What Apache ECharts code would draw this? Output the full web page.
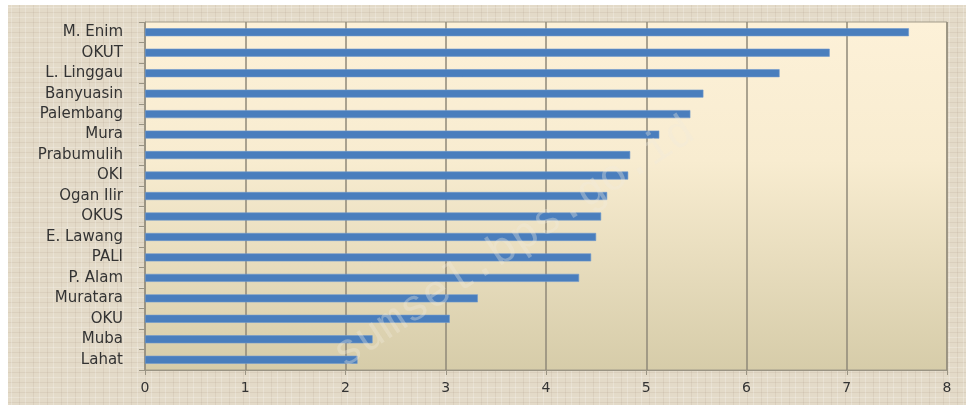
<!DOCTYPE html>
<html>
<head>
<meta charset="utf-8">
<script src="https://cdn.jsdelivr.net/npm/echarts@6/dist/echarts.min.js"></script>
<style>
  html, body { margin: 0; padding: 0; background: #ffffff; }
  #main { width: 966px; height: 405px; }
</style>
</head>
<body>
<div id="main"></div>
<script>
// kabupaten / kota, urut dari atas ke bawah
var categories = ['M. Enim', 'OKUT', 'L. Linggau', 'Banyuasin', 'Palembang', 'Mura', 'Prabumulih', 'OKI',
    'Ogan Ilir', 'OKUS', 'E. Lawang', 'PALI', 'P. Alam', 'Muratara', 'OKU', 'Muba', 'Lahat'];
var values = [7.62, 6.83, 6.33, 5.57, 5.44, 5.13, 4.84, 4.82,
    4.61, 4.55, 4.50, 4.45, 4.33, 3.32, 3.04, 2.27, 2.12];
var xTicks = [0, 1, 2, 3, 4, 5, 6, 7, 8];
var watermark = 'sumsel.bps.go.id';

// tekstur latar (pola tetap, tanpa random)
function makeTexture() {
    var c = document.createElement('canvas');
    c.width = 14; c.height = 10;
    var ctx = c.getContext('2d');
    ctx.fillStyle = '#e3dac8';
    ctx.fillRect(0, 0, 14, 10);
    ctx.fillStyle = 'rgba(175,162,138,0.18)';
    ctx.fillRect(0, 2, 14, 1);
    ctx.fillRect(5, 0, 1, 10);
    ctx.fillStyle = 'rgba(255,255,255,0.22)';
    ctx.fillRect(0, 7, 14, 1);
    ctx.fillRect(11, 0, 1, 10);
    return c;
}

var myChart = echarts.init(document.getElementById('main'));

var option = {
    backgroundColor: '#ffffff',
    animation: false,
    graphic: [
        {
            type: 'rect',
            z: -10,
            shape: { x: 8, y: 5, width: 958, height: 400 },
            style: { fill: { image: makeTexture(), repeat: 'repeat' } }
        },
        {
            type: 'text',
            z: 100,
            x: 514,
            y: 243,
            rotation: 0.58,
            style: {
                text: watermark,
                font: '44px "Liberation Mono", "DejaVu Sans Mono", monospace',
                fill: 'rgba(240,234,220,0.35)',
                align: 'center',
                verticalAlign: 'middle'
            }
        }
    ],
    grid: {
        left: 145,
        right: 19,
        top: 22,
        bottom: 35,
        show: true,
        borderColor: '#a39c8a',
        borderWidth: 1,
        backgroundColor: new echarts.graphic.LinearGradient(0, 0, 0, 1, [
            { offset: 0, color: '#fdf1d8' },
            { offset: 0.4, color: '#f8ecd0' },
            { offset: 1, color: '#d6cca9' }
        ])
    },
    xAxis: {
        type: 'value',
        min: xTicks[0],
        max: xTicks[xTicks.length - 1],
        interval: 1,
        axisLine: { show: true, lineStyle: { color: '#9a9484', width: 1 } },
        axisTick: { show: true, length: 5, lineStyle: { color: '#9a9484' } },
        axisLabel: {
            margin: 11,
            color: '#333333',
            fontSize: 14,
            fontFamily: 'DejaVu Sans'
        },
        splitLine: { show: true, lineStyle: { color: '#8f8979', width: 1.5 } }
    },
    yAxis: {
        type: 'category',
        inverse: true,
        data: categories,
        axisLine: { show: true, lineStyle: { color: '#9a9484', width: 1 } },
        axisTick: { show: true, length: 6, lineStyle: { color: '#9a9484' } },
        axisLabel: {
            margin: 22,
            color: '#333333',
            fontSize: 15,
            fontFamily: 'DejaVu Sans'
        },
        splitLine: { show: false }
    },
    series: [{
        type: 'bar',
        data: values,
        barWidth: 8,
        itemStyle: {
            color: '#4a7ebd',
            borderColor: '#6f98cc',
            borderWidth: 0.6
        }
    }]
};

myChart.setOption(option);
</script>
</body>
</html>
